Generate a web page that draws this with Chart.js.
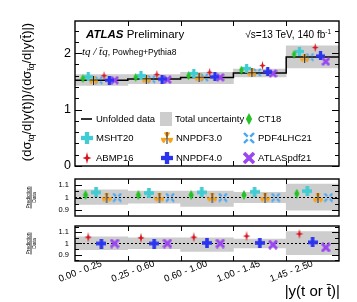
<!DOCTYPE html>
<html>
<head>
<meta charset="utf-8">
<script src="https://cdn.jsdelivr.net/npm/chart.js@4.4.1/dist/chart.umd.min.js"></script>
<style>
  html, body { margin: 0; padding: 0; background: #fff; }
  #wrap { position: relative; width: 357px; height: 302px; }
  #wrap canvas { position: absolute; left: 0; top: 0; }
</style>
</head>
<body>
<div id="wrap">
  <canvas id="main" width="357" height="302"></canvas>
  <canvas id="ratio1" width="357" height="302"></canvas>
  <canvas id="ratio2" width="357" height="302"></canvas>
</div>
<script>
// bins in |y(t or tbar)|
const binLabels = ['0.00 - 0.25', '0.25 - 0.60', '0.60 - 1.00', '1.00 - 1.45', '1.45 - 2.50'];

// unfolded data and total uncertainty band
const dataVals = [1.52, 1.54, 1.57, 1.65, 1.93];
const uncLow   = [1.43, 1.46, 1.46, 1.58, 1.74];
const uncHigh  = [1.62, 1.62, 1.66, 1.72, 2.13];
const relLow   = [0.945, 0.955, 0.93, 0.96, 0.90];
const relHigh  = [1.06, 1.05, 1.05, 1.04, 1.105];

// predictions (top panel)
const ct18       = [1.55, 1.57, 1.60, 1.70, 1.98];
const msht20     = [1.58, 1.60, 1.64, 1.73, 2.03];
const nnpdf30    = [1.52, 1.54, 1.57, 1.65, 1.91];
const pdf4lhc21  = [1.52, 1.54, 1.57, 1.66, 1.93];
const abmp16     = [1.60, 1.62, 1.66, 1.78, 2.10];
const nnpdf40    = [1.52, 1.54, 1.58, 1.67, 1.95];
const atlaspdf21 = [1.52, 1.53, 1.57, 1.64, 1.85];

// prediction / data
const ct18Ratio       = [1.02, 1.02, 1.02, 1.02, 1.03];
const msht20Ratio     = [1.04, 1.035, 1.04, 1.045, 1.05];
const nnpdf30Ratio    = [1.0, 1.0, 1.0, 1.0, 0.995];
const pdf4lhc21Ratio  = [1.0, 1.0, 1.0, 1.0, 1.0];
const abmp16Ratio     = [1.055, 1.05, 1.055, 1.065, 1.085];
const nnpdf40Ratio    = [1.0, 1.0, 1.005, 1.005, 1.01];
const atlaspdf21Ratio = [1.0, 1.0, 1.0, 0.99, 0.965];

// tick labels
const mainYTicks = [0, 1, 2];
const ratioYTicks = [0.9, 1, 1.1];

const SANS = '"Liberation Sans", Arial, sans-serif';
const SERIF = '"Liberation Serif", "Times New Roman", serif';
const BAND = '#cdcdcd';
const W = 357, H = 302, LEFT = 75, RIGHT = 339;
const nBins = binLabels.length;

// marker shapes
function makeMarker(shape, color, s) {
  const c = document.createElement('canvas');
  c.width = s; c.height = s;
  const g = c.getContext('2d');
  const m = s / 2;
  g.fillStyle = color;
  g.strokeStyle = color;
  if (shape === 'diamond') {
    g.beginPath();
    g.moveTo(m, 0); g.lineTo(m + s * 0.26, m); g.lineTo(m, s); g.lineTo(m - s * 0.26, m);
    g.closePath(); g.fill();
  } else if (shape === 'plus') {
    const w = s * 0.36;
    g.fillRect(m - w / 2, 0, w, s);
    g.fillRect(0, m - w / 2, s, w);
  } else if (shape === 'trefoil') {
    [-90, 30, 150].forEach(function(a) {
      const r = a * Math.PI / 180;
      g.beginPath(); g.moveTo(m, m); g.arc(m, m, m, r - 0.55, r + 0.55); g.closePath(); g.fill();
    });
    g.fillStyle = '#222';
    g.fillRect(m - 0.5, 0, 1, s);
  } else if (shape === 'openX') {
    g.lineWidth = s * 0.2;
    [[1, 1], [1, -1], [-1, 1], [-1, -1]].forEach(function(d) {
      g.beginPath();
      g.moveTo(m + d[0] * 1.3, m + d[1] * 1.3);
      g.lineTo(m + d[0] * (m - 1), m + d[1] * (m - 1));
      g.stroke();
    });
  } else if (shape === 'star') {
    const b = m * 0.75, i = s * 0.1;
    g.beginPath();
    g.moveTo(m, 0); g.lineTo(m + i, m - i); g.lineTo(m + b, m); g.lineTo(m + i, m + i);
    g.lineTo(m, s); g.lineTo(m - i, m + i); g.lineTo(m - b, m); g.lineTo(m - i, m - i);
    g.closePath(); g.fill();
  } else if (shape === 'x') {
    g.lineWidth = s * 0.3;
    g.beginPath();
    g.moveTo(1, 1); g.lineTo(s - 1, s - 1);
    g.moveTo(s - 1, 1); g.lineTo(1, s - 1);
    g.stroke();
  }
  return c;
}

// series styling
const series = [
  { name: 'CT18',       main: ct18,       ratio: ct18Ratio,       color: '#22c322', shape: 'diamond', panel: 1 },
  { name: 'MSHT20',     main: msht20,     ratio: msht20Ratio,     color: '#40ccd2', shape: 'plus',    panel: 1 },
  { name: 'NNPDF3.0',   main: nnpdf30,    ratio: nnpdf30Ratio,    color: '#f7a21b', shape: 'trefoil', panel: 1 },
  { name: 'PDF4LHC21',  main: pdf4lhc21,  ratio: pdf4lhc21Ratio,  color: '#45a6f5', shape: 'openX',   panel: 1 },
  { name: 'ABMP16',     main: abmp16,     ratio: abmp16Ratio,     color: '#d8141e', shape: 'star',    panel: 2 },
  { name: 'NNPDF4.0',   main: nnpdf40,    ratio: nnpdf40Ratio,    color: '#2b35f0', shape: 'plus',    panel: 2 },
  { name: 'ATLASpdf21', main: atlaspdf21, ratio: atlaspdf21Ratio, color: '#9b47f0', shape: 'x',       panel: 2 }
];
series.forEach(function(s) {
  s.imgMain = makeMarker(s.shape, s.color, 9);
  s.imgRatio = makeMarker(s.shape, s.color, 10);
  s.imgLegend = makeMarker(s.shape, s.color, 12);
});

function drawRich(ctx, parts, x, y, align) {
  let w = 0;
  parts.forEach(function(p) { ctx.font = p.f; w += ctx.measureText(p.t).width; });
  let cx = align === 'right' ? x - w : (align === 'center' ? x - w / 2 : x);
  parts.forEach(function(p) {
    ctx.font = p.f;
    ctx.fillText(p.t, cx, y + (p.dy || 0));
    cx += ctx.measureText(p.t).width;
  });
}

// frame with inward ticks, ROOT style
const framePlugin = {
  id: 'frame',
  afterDraw(chart, args, opts) {
    const ctx = chart.ctx, a = chart.chartArea;
    const xs = chart.scales.xv, ys = chart.scales.y;
    ctx.save();
    ctx.strokeStyle = '#000';
    ctx.lineWidth = 1;
    ctx.beginPath();
    for (let e = 1; e < nBins; e++) {
      const px = Math.round(xs.getPixelForValue(e)) + 0.5;
      ctx.moveTo(px, a.bottom); ctx.lineTo(px, a.bottom - 5);
      ctx.moveTo(px, a.top); ctx.lineTo(px, a.top + 5);
    }
    const lo = ys.min, hi = ys.max;
    for (let v = Math.ceil(lo / opts.minor - 1e-6) * opts.minor; v <= hi + 1e-9; v += opts.minor) {
      const isMajor = Math.abs(v / opts.major - Math.round(v / opts.major)) < 1e-6;
      const len = isMajor ? 7 : 4;
      const py = Math.round(ys.getPixelForValue(v)) + 0.5;
      ctx.moveTo(a.left, py); ctx.lineTo(a.left + len, py);
      ctx.moveTo(a.right, py); ctx.lineTo(a.right - len, py);
    }
    ctx.stroke();
    ctx.lineWidth = 1.4;
    ctx.strokeRect(a.left, a.top, a.right - a.left, a.bottom - a.top);
    ctx.restore();
  }
};

const annotMain = {
  id: 'annotMain',
  afterDraw(chart) {
    const ctx = chart.ctx;
    ctx.save();
    ctx.fillStyle = '#000';
    ctx.textBaseline = 'alphabetic';
    drawRich(ctx, [
      { t: 'ATLAS', f: 'italic bold 11.5px ' + SANS },
      { t: ' Preliminary', f: '11.5px ' + SANS }
    ], 86, 38, 'left');
    drawRich(ctx, [
      { t: 'tq / t\u0304q', f: 'italic 11px ' + SERIF },
      { t: ', Powheg+Pythia8', f: '8.5px ' + SANS }
    ], 82, 55, 'left');
    drawRich(ctx, [
      { t: '\u221As=13 TeV, 140 fb', f: '10px ' + SANS },
      { t: '-1', f: '6.5px ' + SANS, dy: -4.5 }
    ], 331, 38, 'right');

    // legend
    const colX = [87, 167, 249];
    const rowY = [119, 138, 158];
    ctx.font = '9.5px ' + SANS;
    ctx.textBaseline = 'middle';
    ctx.strokeStyle = '#000';
    ctx.lineWidth = 1.6;
    ctx.beginPath(); ctx.moveTo(81, rowY[0]); ctx.lineTo(92, rowY[0]); ctx.stroke();
    ctx.fillText('Unfolded data', colX[0] + 9, rowY[0]);
    ctx.fillStyle = BAND;
    ctx.fillRect(160, 112, 12, 14);
    ctx.fillStyle = '#000';
    ctx.fillText('Total uncertainty', colX[1] + 8, rowY[0]);
    const order = [null, null, 0, 1, 2, 3, 4, 5, 6];
    order.forEach(function(k, j) {
      if (k === null) return;
      const s = series[k];
      const x = colX[j % 3], y = rowY[Math.floor(j / 3)];
      ctx.drawImage(s.imgLegend, x - 6, y - 6);
      ctx.fillText(s.name, x + 9, y);
    });

    // y title
    ctx.translate(31, 92);
    ctx.rotate(-Math.PI / 2);
    ctx.textBaseline = 'alphabetic';
    drawRich(ctx, [
      { t: '(d\u03c3', f: '13px ' + SANS },
      { t: 'tq', f: '8.5px ' + SANS, dy: 3 },
      { t: '/d|y(t)|)/(d\u03c3', f: '13px ' + SANS },
      { t: 't\u0304q', f: '8.5px ' + SANS, dy: 3 },
      { t: '/d|y(t\u0304)|)', f: '13px ' + SANS }
    ], 0, 0, 'center');
    ctx.restore();
  }
};

const ratioTitle = {
  id: 'ratioTitle',
  afterDraw(chart) {
    const ctx = chart.ctx, a = chart.chartArea;
    ctx.save();
    ctx.translate(31, (a.top + a.bottom) / 2);
    ctx.rotate(-Math.PI / 2);
    ctx.fillStyle = '#000';
    ctx.font = '5px ' + SANS;
    ctx.textAlign = 'center';
    ctx.textBaseline = 'alphabetic';
    ctx.fillText('Prediction', 0, -1.2);
    ctx.textBaseline = 'top';
    ctx.fillText('Data', 0, 1.2);
    ctx.fillRect(-11, -0.4, 22, 0.8);
    ctx.restore();
    if (chart.canvas.id === 'ratio2') {
      ctx.save();
      ctx.fillStyle = '#000';
      ctx.textBaseline = 'alphabetic';
      drawRich(ctx, [{ t: '|y(t or t\u0304)|', f: '15px ' + SANS }], 340, 296, 'right');
      ctx.restore();
    }
  }
};

function pts(vals, off) {
  return vals.map(function(v, i) { return { x: i + off, y: v }; });
}
function bandSet(lo, hi) {
  return {
    type: 'bar',
    xAxisID: 'xv',
    data: lo.map(function(v, i) { return { x: i + 0.5, y: [v, hi[i]] }; }),
    backgroundColor: BAND,
    borderWidth: 0,
    barPercentage: 1,
    categoryPercentage: 1,
    order: 10
  };
}
function markerSet(s, vals, off, img) {
  return {
    type: 'scatter',
    xAxisID: 'xv',
    data: pts(vals, off),
    pointStyle: img,
    pointRadius: 4,
    showLine: false,
    order: 1
  };
}
function edgeTicks(scale) {
  scale.ticks = [];
  for (let e = 0; e <= nBins; e++) scale.ticks.push({ value: e });
}

function yScale(min, max, ticks, size, pad) {
  return {
    min: min, max: max,
    afterFit: function(s) { s.width = LEFT; },
    afterBuildTicks: function(s) { s.ticks = ticks.map(function(v) { return { value: v }; }); },
    grid: { display: false, drawTicks: false },
    border: { display: false },
    ticks: {
      color: '#000', padding: pad,
      font: { family: SANS, size: size },
      callback: function(v) { return String(+v.toFixed(2)); }
    }
  };
}

// top panel
const stepData = pts(dataVals, 0).concat([{ x: nBins, y: dataVals[nBins - 1] }]);
new Chart(document.getElementById('main'), {
  type: 'scatter',
  data: {
    datasets: [bandSet(uncLow, uncHigh), {
      type: 'line', xAxisID: 'xv', data: stepData, stepped: 'before',
      borderColor: '#000', borderWidth: 1.5, pointRadius: 0, order: 5
    }].concat(series.map(function(s, k) { return markerSet(s, s.main, 0.15 + 0.1 * k, s.imgMain); }))
  },
  options: {
    responsive: false, animation: false, events: [],
    layout: { padding: { top: 21, right: W - RIGHT, bottom: H - 166, left: 0 } },
    plugins: { legend: { display: false }, tooltip: { enabled: false }, frame: { major: 1, minor: 0.2 } },
    scales: {
      xv: { type: 'linear', position: 'bottom', min: 0, max: nBins, offset: false, display: false, afterBuildTicks: edgeTicks },
      y: yScale(0, 2.57, mainYTicks, 12.5, 4)
    }
  },
  plugins: [framePlugin, annotMain]
});

// ratio panels
function ratioChart(id, panel, yMin, yMax, top, bottom, showX) {
  const members = series.filter(function(s) { return s.panel === panel; });
  const step = 1 / (members.length + 1);
  const xScale = showX ? {
    type: 'linear', position: 'bottom', min: 0, max: nBins, offset: false,
    afterBuildTicks: function(s) { s.ticks = binLabels.map(function(l, i) { return { value: i + 0.5 }; }); },
    afterFit: function(s) { s.height = H - bottom; },
    grid: { display: false, drawTicks: false },
    border: { display: false },
    ticks: {
      color: '#000', padding: -3, autoSkip: false, minRotation: 21, maxRotation: 21,
      font: { family: SANS, size: 9.5 },
      callback: function(v, i) { return binLabels[i]; }
    }
  } : { type: 'linear', position: 'bottom', min: 0, max: nBins, offset: false, display: false, afterBuildTicks: edgeTicks };
  new Chart(document.getElementById(id), {
    type: 'scatter',
    data: {
      datasets: [bandSet(relLow, relHigh), {
        type: 'line', xAxisID: 'xv', data: [{ x: 0, y: 1 }, { x: nBins, y: 1 }],
        borderColor: '#000', borderWidth: 1.2, borderDash: [2, 2], pointRadius: 0, order: 5
      }].concat(members.map(function(s, k) { return markerSet(s, s.ratio, step * (k + 1), s.imgRatio); }))
    },
    options: {
      responsive: false, animation: false, events: [],
      layout: { padding: { top: top, right: W - RIGHT, bottom: showX ? 0 : H - bottom, left: 0 } },
      plugins: { legend: { display: false }, tooltip: { enabled: false }, frame: { major: 0.1, minor: 0.05 } },
      scales: { xv: xScale, y: yScale(yMin, yMax, ratioYTicks, 7.5, 6) }
    },
    plugins: [framePlugin, ratioTitle]
  });
}
ratioChart('ratio1', 1, 0.855, 1.145, 179, 216, false);
ratioChart('ratio2', 2, 0.845, 1.155, 226, 261, true);
</script>
</body>
</html>
